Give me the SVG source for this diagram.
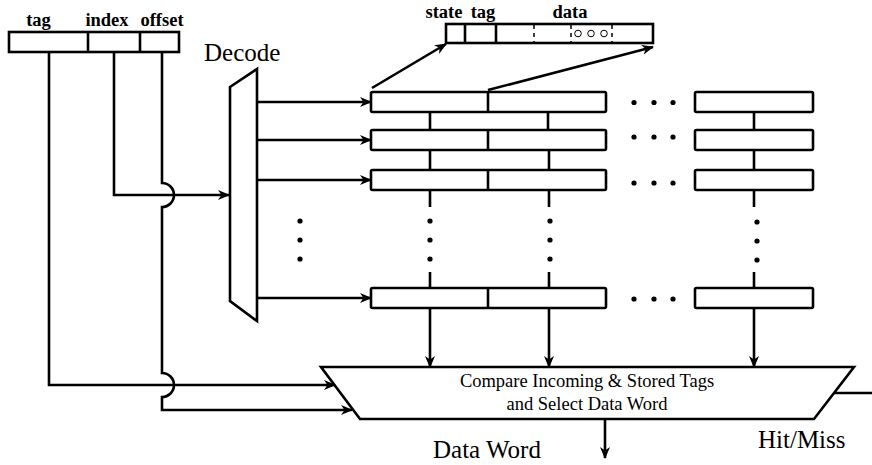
<svg xmlns="http://www.w3.org/2000/svg" width="872" height="465" viewBox="0 0 872 465">
<defs>
<marker id="ah" viewBox="0 0 12 10" markerWidth="12" markerHeight="10" refX="11" refY="5" orient="auto" markerUnits="userSpaceOnUse">
<path d="M0,0 L12,5 L0,10 L3.5,5 z" fill="#000"/>
</marker>
<style>
.s{fill:#fff;stroke:#000;stroke-width:2.6;stroke-linejoin:miter}
.ln{fill:none;stroke:#000;stroke-width:2.6}
.ar{fill:none;stroke:#000;stroke-width:2.6;marker-end:url(#ah)}
.dv{stroke:#000;stroke-width:2.6}
.dash{stroke:#000;stroke-width:1.5;stroke-dasharray:4 4}
.dot{fill:#000}
.b{font-family:"Liberation Serif",serif;font-weight:bold;font-size:18.5px;text-anchor:middle}
.t{font-family:"Liberation Serif",serif;font-size:25px}
.c{font-family:"Liberation Serif",serif;font-size:18.5px;text-anchor:middle}
</style>
</defs>
<rect width="872" height="465" fill="#fff"/>

<g id="address">
<rect class="s" x="9" y="32" width="170" height="20"/>
<line class="dv" x1="88" y1="32" x2="88" y2="52"/>
<line class="dv" x1="140" y1="32" x2="140" y2="52"/>
<text class="b" x="38.5" y="26">tag</text>
<text class="b" x="107" y="26">index</text>
<text class="b" x="162" y="26">offset</text>
</g>

<g id="line-detail">
<rect class="s" x="446" y="24" width="207" height="19"/>
<line class="dv" x1="465" y1="24" x2="465" y2="43"/>
<line class="dv" x1="496" y1="24" x2="496" y2="43"/>
<line class="dash" x1="534" y1="25" x2="534" y2="42"/>
<line class="dash" x1="571" y1="25" x2="571" y2="42"/>
<line class="dash" x1="612" y1="25" x2="612" y2="42"/>
<circle cx="578" cy="33.5" r="3.3" fill="none" stroke="#000" stroke-width="1"/>
<circle cx="591" cy="33.5" r="3.3" fill="none" stroke="#000" stroke-width="1"/>
<circle cx="604" cy="33.5" r="3.3" fill="none" stroke="#000" stroke-width="1"/>
<text class="b" x="444" y="18">state</text>
<text class="b" x="483" y="18">tag</text>
<text class="b" x="570" y="18">data</text>
</g>

<g id="decoder">
<polygon class="s" points="230,87 257,69 257,321 230,301"/>
<text class="t" x="204" y="61">Decode</text>
</g>

<g id="row1">
<rect class="s" x="371" y="92" width="235" height="20" rx="1.5"/>
<line class="dv" x1="488" y1="92" x2="488" y2="112"/>
<rect class="s" x="695" y="92" width="118" height="20" rx="1.5"/>
<circle class="dot" cx="634" cy="102.5" r="2.6"/>
<circle class="dot" cx="654" cy="102.5" r="2.6"/>
<circle class="dot" cx="673" cy="102.5" r="2.6"/>
</g>
<g id="row2">
<rect class="s" x="371" y="130" width="235" height="20" rx="1.5"/>
<line class="dv" x1="488" y1="130" x2="488" y2="150"/>
<rect class="s" x="695" y="130" width="118" height="20" rx="1.5"/>
<circle class="dot" cx="634" cy="137" r="2.6"/>
<circle class="dot" cx="654" cy="137" r="2.6"/>
<circle class="dot" cx="673" cy="137" r="2.6"/>
</g>
<g id="row3">
<rect class="s" x="371" y="170" width="235" height="20" rx="1.5"/>
<line class="dv" x1="488" y1="170" x2="488" y2="190"/>
<rect class="s" x="695" y="170" width="118" height="20" rx="1.5"/>
<circle class="dot" cx="634" cy="183" r="2.6"/>
<circle class="dot" cx="654" cy="183" r="2.6"/>
<circle class="dot" cx="673" cy="183" r="2.6"/>
</g>
<g id="rowN">
<rect class="s" x="371" y="288" width="235" height="20" rx="1.5"/>
<line class="dv" x1="488" y1="288" x2="488" y2="308"/>
<rect class="s" x="695" y="288" width="118" height="20" rx="1.5"/>
<circle class="dot" cx="634" cy="299" r="2.6"/>
<circle class="dot" cx="654" cy="299" r="2.6"/>
<circle class="dot" cx="673" cy="299" r="2.6"/>
</g>

<g id="vdots">
<circle class="dot" cx="300" cy="221" r="2.6"/>
<circle class="dot" cx="300" cy="240" r="2.6"/>
<circle class="dot" cx="300" cy="259" r="2.6"/>
<circle class="dot" cx="430" cy="221" r="2.6"/>
<circle class="dot" cx="430" cy="240" r="2.6"/>
<circle class="dot" cx="430" cy="259" r="2.6"/>
<circle class="dot" cx="550" cy="221" r="2.6"/>
<circle class="dot" cx="550" cy="240" r="2.6"/>
<circle class="dot" cx="550" cy="259" r="2.6"/>
<circle class="dot" cx="757" cy="222" r="2.6"/>
<circle class="dot" cx="757" cy="241" r="2.6"/>
<circle class="dot" cx="757" cy="260" r="2.6"/>
</g>

<g id="compare">
<polygon class="s" points="321,367 854,367 814,419 360,419"/>
<text class="c" x="587" y="387">Compare Incoming &amp; Stored Tags</text>
<text class="c" x="587" y="410">and Select Data Word</text>
</g>

<g id="labels">
<text class="t" x="433" y="458">Data Word</text>
<text class="t" x="758" y="448">Hit/Miss</text>
</g>

<g id="connectors">
<path class="ar" d="M49,52 V385 H335"/>
<path class="ar" d="M114,52 V195 H229"/>
<path class="ar" d="M162,52 V183 A12,12 0 0 1 162,207 V373 A12,12 0 0 1 162,397 V410 H352"/>
<path class="ar" d="M257,102 H371"/>
<path class="ar" d="M257,140 H371"/>
<path class="ar" d="M257,180 H371"/>
<path class="ar" d="M257,298 H371"/>
<path class="ar" d="M372,88 L446,44"/>
<path class="ar" d="M488,90 L653,47"/>
<path class="ln" d="M430,112 V130 M430,150 V170 M430,190 V207 M430,272 V288"/>
<path class="ln" d="M548,112 V130 M549,150 V170 M549,190 V207 M549,272 V288"/>
<path class="ln" d="M754,112 V130 M754,150 V170 M754,190 V207 M754,272 V288"/>
<path class="ar" d="M430,308 V367"/>
<path class="ar" d="M549,308 V367"/>
<path class="ar" d="M754,308 V367"/>
<path class="ar" d="M605,419 V458"/>
<path class="ln" d="M834,393 H872"/>
</g>
</svg>
